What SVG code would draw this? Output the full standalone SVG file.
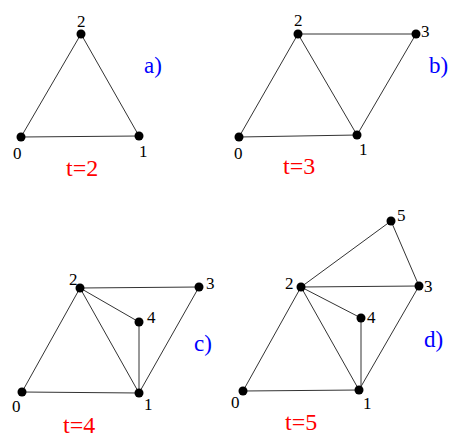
<svg xmlns="http://www.w3.org/2000/svg" width="463" height="446" viewBox="0 0 463 446">
<style>
.e{stroke:#333;stroke-width:1;fill:none}
.n{fill:#000}
.l{font-family:"Liberation Serif",serif;font-size:17px;fill:#000}
.p{font-family:"Liberation Serif",serif;font-size:23px;fill:#0000ff}
.t{font-family:"Liberation Serif",serif;font-size:24px;fill:#ff0000}
</style>
<defs><circle id="dot" r="4.5" class="n"/></defs>
<g id="connectors">
<line class="e" x1="21" y1="137" x2="81" y2="34"/>
<line class="e" x1="81" y1="34" x2="139" y2="136"/>
<line class="e" x1="21" y1="137" x2="139" y2="136"/>
<line class="e" x1="239" y1="137" x2="298" y2="34"/>
<line class="e" x1="298" y1="34" x2="357" y2="135"/>
<line class="e" x1="239" y1="137" x2="357" y2="135"/>
<line class="e" x1="298" y1="34" x2="416" y2="34"/>
<line class="e" x1="416" y1="34" x2="357" y2="135"/>
<line class="e" x1="22" y1="392" x2="80" y2="288"/>
<line class="e" x1="80" y1="288" x2="139" y2="393"/>
<line class="e" x1="22" y1="392" x2="139" y2="393"/>
<line class="e" x1="80" y1="288" x2="199" y2="287"/>
<line class="e" x1="199" y1="287" x2="139" y2="393"/>
<line class="e" x1="80" y1="288" x2="139" y2="322"/>
<line class="e" x1="139" y1="322" x2="139" y2="393"/>
<line class="e" x1="243" y1="391" x2="301" y2="287"/>
<line class="e" x1="301" y1="287" x2="359" y2="390"/>
<line class="e" x1="243" y1="391" x2="359" y2="390"/>
<line class="e" x1="301" y1="287" x2="419" y2="286"/>
<line class="e" x1="419" y1="286" x2="359" y2="390"/>
<line class="e" x1="301" y1="287" x2="361" y2="318"/>
<line class="e" x1="361" y1="318" x2="361" y2="390"/>
<line class="e" x1="301" y1="287" x2="391" y2="221"/>
<line class="e" x1="391" y1="221" x2="419" y2="286"/>
</g>
<g id="a">
<g id="a0"><use href="#dot" x="21" y="137"/><text class="l" x="13" y="159">0</text></g>
<g id="a1"><use href="#dot" x="139" y="136"/><text class="l" x="139" y="157">1</text></g>
<g id="a2"><use href="#dot" x="81" y="34"/><text class="l" x="77" y="27">2</text></g>
<text class="p" x="144" y="73">a)</text>
<text class="t" x="66" y="176">t=2</text>
</g>
<g id="b">
<g id="b0"><use href="#dot" x="239" y="137"/><text class="l" x="234" y="159">0</text></g>
<g id="b1"><use href="#dot" x="357" y="135"/><text class="l" x="359" y="155">1</text></g>
<g id="b2"><use href="#dot" x="298" y="34"/><text class="l" x="294" y="26">2</text></g>
<g id="b3"><use href="#dot" x="416" y="34"/><text class="l" x="421" y="37">3</text></g>
<text class="p" x="429" y="73">b)</text>
<text class="t" x="283" y="174">t=3</text>
</g>
<g id="c">
<g id="c0"><use href="#dot" x="22" y="392"/><text class="l" x="12" y="412">0</text></g>
<g id="c1"><use href="#dot" x="139" y="393"/><text class="l" x="144" y="410">1</text></g>
<g id="c2"><use href="#dot" x="80" y="288"/><text class="l" x="69" y="285">2</text></g>
<g id="c3"><use href="#dot" x="199" y="287"/><text class="l" x="206" y="289">3</text></g>
<g id="c4"><use href="#dot" x="139" y="322"/><text class="l" x="147" y="323">4</text></g>
<text class="p" x="194" y="351">c)</text>
<text class="t" x="63" y="433">t=4</text>
</g>
<g id="d">
<g id="d0"><use href="#dot" x="243" y="391"/><text class="l" x="231" y="408">0</text></g>
<g id="d1"><use href="#dot" x="359" y="390"/><text class="l" x="363" y="409">1</text></g>
<g id="d2"><use href="#dot" x="301" y="287"/><text class="l" x="285" y="289">2</text></g>
<g id="d3"><use href="#dot" x="419" y="286"/><text class="l" x="424" y="292">3</text></g>
<g id="d4"><use href="#dot" x="361" y="318"/><text class="l" x="367" y="323">4</text></g>
<g id="d5"><use href="#dot" x="391" y="221"/><text class="l" x="397" y="221">5</text></g>
<text class="p" x="424" y="347">d)</text>
<text class="t" x="285" y="430">t=5</text>
</g>
</svg>
